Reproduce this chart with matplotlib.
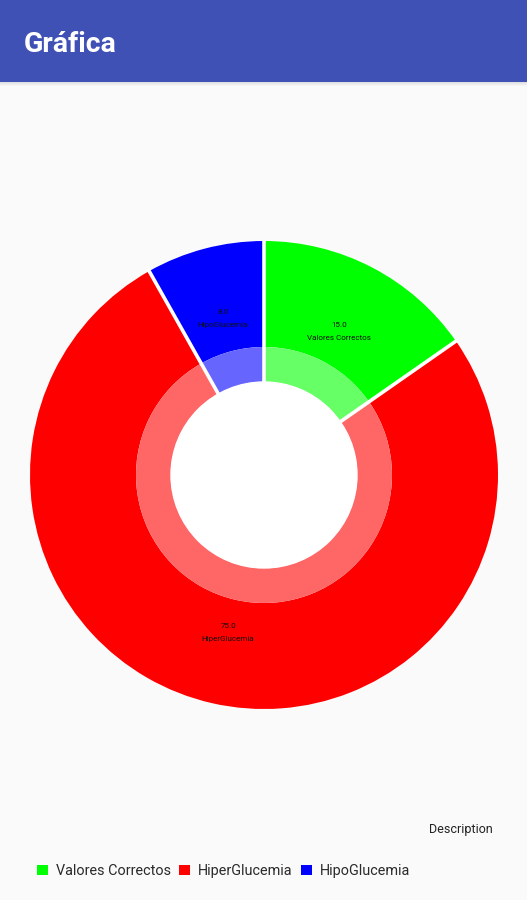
import numpy as np
import matplotlib.pyplot as plt
from matplotlib.patches import Patch, Rectangle, Circle

plt.rcParams["font.family"] = ["Roboto", "DejaVu Sans"]

# ---- data ----
labels = ["Valores Correctos", "HiperGlucemia", "HipoGlucemia"]
values = [15.0, 75.0, 8.0]
colors = ["#00FF00", "#FF0000", "#0000FF"]
light = ["#66FF66", "#FF6666", "#6666FF"]   # inner translucent ring
title = "Gráfica"
desc = "Description"

W, H = 527, 900
fig = plt.figure(figsize=(W / 100, H / 100), dpi=100, facecolor="#FAFAFA")

# ---- app bar ----
bar = fig.add_axes([0, 1 - 82 / H, 1, 82 / H])
bar.set_facecolor("#3F51B5")
bar.set_xticks([]); bar.set_yticks([])
for s in bar.spines.values():
    s.set_visible(False)
fig.text(24 / W, 1 - 44 / H, title, color="white", fontsize=20.5,
         fontweight="bold", va="center", ha="left")
for i in range(4):
    fig.patches.append(Rectangle((0, 1 - (83 + i) / H), 1, 1 / H,
                                 transform=fig.transFigure, color="black",
                                 alpha=0.10 * (1 - i / 4), lw=0))

# ---- donut ----
cx, cy, R = 264, 475, 234
r_ring, r_hole = 128, 93
ax = fig.add_axes([(cx - R) / W, (H - cy - R) / H, 2 * R / W, 2 * R / H])
wedges, _ = ax.pie(values, colors=colors, startangle=90, counterclock=False,
                   radius=1, wedgeprops=dict(width=1 - r_ring / R, linewidth=0))
ax.pie(values, colors=light, startangle=90, counterclock=False,
       radius=r_ring / R, wedgeprops=dict(width=(r_ring - r_hole) / R, linewidth=0))
ax.add_patch(Circle((0, 0), r_hole / R, color="white", zorder=5))

# slice gaps (radial only)
for w in wedges:
    a = np.deg2rad(w.theta1)
    ax.plot([r_hole / R * np.cos(a), 1.01 * np.cos(a)],
            [r_hole / R * np.sin(a), 1.01 * np.sin(a)],
            color="white", lw=2.6, solid_capstyle="butt", zorder=4)

ax.set_xlim(-1, 1); ax.set_ylim(-1, 1)
ax.set_aspect("equal")
ax.axis("off")

for w, v, lab in zip(wedges, values, labels):
    ang = np.deg2rad((w.theta1 + w.theta2) / 2)
    x, y = 0.69 * np.cos(ang), 0.69 * np.sin(ang)
    ax.annotate(f"{v:.1f}", (x, y), xytext=(0, 4.7), textcoords="offset points",
                ha="center", va="center", fontsize=5.8, color="#111111")
    ax.annotate(lab, (x, y), xytext=(0, -4.7), textcoords="offset points",
                ha="center", va="center", fontsize=5.8, color="#111111")

# ---- description + legend ----
fig.text(493 / W, 1 - 830 / H, desc, ha="right", va="center", fontsize=9,
         color="#222222")
handles = [Patch(facecolor=c, edgecolor="none", label=l) for c, l in zip(colors, labels)]
fig.legend(handles=handles, loc="center left", bbox_to_anchor=(37 / W, 1 - 871 / H),
           ncol=3, frameon=False, fontsize=10.4, handlelength=0.75, handleheight=0.75,
           handletextpad=0.55, columnspacing=0.6, borderaxespad=0, borderpad=0,
           labelcolor="#2a2a2a")

fig.savefig("out.png", dpi=100, facecolor=fig.get_facecolor())
